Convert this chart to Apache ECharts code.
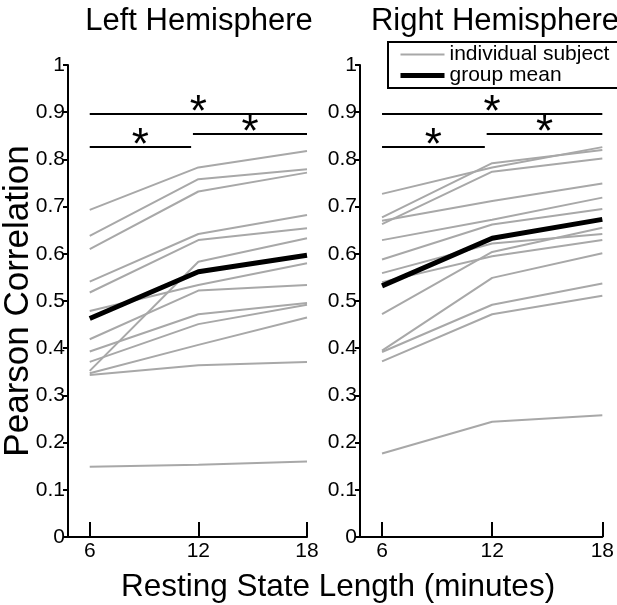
<!DOCTYPE html>
<html><head><meta charset="utf-8">
<script src="https://cdn.jsdelivr.net/npm/echarts@6/dist/echarts.min.js"></script>
<style>html,body{margin:0;padding:0;background:#fff}#c{width:617px;height:605px}</style>
</head><body><div id="c"></div><script>
// ---- data ----
const xValues = [6, 12, 18];
const xTickValues = [6, 12, 18];
const panelTitles = ['Left Hemisphere', 'Right Hemisphere'];
const legendNames = ['individual subject', 'group mean'];

const leftS01 = [0.693, 0.783, 0.818];
const leftS02 = [0.638, 0.758, 0.779];
const leftS03 = [0.610, 0.732, 0.772];
const leftS04 = [0.541, 0.642, 0.682];
const leftS05 = [0.518, 0.629, 0.654];
const leftS06 = [0.352, 0.583, 0.633];
const leftS07 = [0.479, 0.534, 0.580];
const leftS08 = [0.419, 0.522, 0.534];
const leftS09 = [0.393, 0.472, 0.496];
const leftS10 = [0.371, 0.451, 0.492];
const leftS11 = [0.347, 0.407, 0.465];
const leftS12 = [0.343, 0.364, 0.371];
const leftS13 = [0.149, 0.153, 0.160];
const leftMean = [0.463, 0.562, 0.597];

const rightS01 = [0.727, 0.783, 0.826];
const rightS02 = [0.677, 0.792, 0.820];
const rightS03 = [0.663, 0.774, 0.802];
const rightS04 = [0.670, 0.712, 0.749];
const rightS05 = [0.629, 0.672, 0.719];
const rightS06 = [0.588, 0.662, 0.695];
const rightS07 = [0.559, 0.622, 0.642];
const rightS08 = [0.540, 0.595, 0.629];
const rightS09 = [0.472, 0.604, 0.655];
const rightS10 = [0.395, 0.549, 0.601];
const rightS11 = [0.392, 0.492, 0.537];
const rightS12 = [0.372, 0.472, 0.511];
const rightS13 = [0.177, 0.244, 0.258];
const rightMean = [0.532, 0.633, 0.673];

// significance bars: [x1, x2, y]
const sigBars = [[6, 18, 0.896], [6, 11.6, 0.826], [11.7, 18, 0.855]];

const leftSubjects = [leftS01,leftS02,leftS03,leftS04,leftS05,leftS06,leftS07,leftS08,leftS09,leftS10,leftS11,leftS12,leftS13];
const rightSubjects = [rightS01,rightS02,rightS03,rightS04,rightS05,rightS06,rightS07,rightS08,rightS09,rightS10,rightS11,rightS12,rightS13];

// ---- chart ----
const FONT = "'Liberation Sans', Arial, sans-serif";
const GRAY = '#a8a8a8';
const chart = echarts.init(document.getElementById('c'), null, {renderer: 'canvas'});

function pts(vals) { return xValues.map((x, i) => [x, vals[i]]); }

const series = [];
[leftSubjects, rightSubjects].forEach((subs, p) => {
  subs.forEach(v => series.push({
    type: 'line', name: legendNames[0], xAxisIndex: p, yAxisIndex: p,
    data: pts(v), symbol: 'none', silent: true, z: 2,
    lineStyle: {color: GRAY, width: 2}, itemStyle: {color: GRAY}
  }));
});
[leftMean, rightMean].forEach((v, p) => {
  series.push({
    type: 'line', name: legendNames[1], xAxisIndex: p, yAxisIndex: p,
    data: pts(v), symbol: 'none', silent: true, z: 4,
    lineStyle: {color: '#000', width: 5}, itemStyle: {color: '#000'}
  });
  series.push({
    type: 'line', name: 'sig' + p, xAxisIndex: p, yAxisIndex: p, data: [], z: 5,
    markLine: {
      silent: true, symbol: ['none', 'none'], animation: false,
      lineStyle: {color: '#000', width: 2, type: 'solid'},
      label: {show: true, position: 'middle', formatter: '*', color: '#000',
              fontSize: 44, fontFamily: FONT, distance: -22},
      data: sigBars.map(b => [{coord: [b[0], b[2]]}, {coord: [b[1], b[2]]}])
    }
  });
});

const grids = [
  {left: 68, top: 65, width: 239, height: 472},
  {left: 360, top: 65, width: 243, height: 472}
];

function xAxis(i) {
  return {
    type: 'value', gridIndex: i, min: 4.8, max: 18,
    axisLine: {show: true, lineStyle: {color: '#000', width: 2}},
    axisTick: {show: true, inside: true, length: 15, customValues: xTickValues, lineStyle: {color: '#000', width: 2}},
    axisLabel: {show: true, customValues: xTickValues, color: '#000', fontSize: 21, fontFamily: FONT, margin: 4},
    splitLine: {show: false}
  };
}
function yAxis(i) {
  return {
    type: 'value', gridIndex: i, min: 0, max: 1, interval: 0.1,
    axisLine: {show: true, lineStyle: {color: '#000', width: 2}},
    axisTick: {show: true, inside: false, length: 5, lineStyle: {color: '#000', width: 2}},
    axisLabel: {color: '#000', fontSize: 21, fontFamily: FONT, margin: 3,
      formatter: v => (v === 0 ? '0' : v === 1 ? '1' : v.toFixed(1))},
    splitLine: {show: false},
    name: i === 0 ? 'Pearson Correlation' : '',
    nameLocation: 'middle', nameRotate: 90, nameGap: 32, nameMoveOverlap: false,
    nameTextStyle: {color: '#000', fontSize: 35, fontFamily: FONT}
  };
}

chart.setOption({
  animation: false,
  backgroundColor: '#fff',
  textStyle: {fontFamily: FONT},
  title: [
    {text: panelTitles[0], left: 194, top: 1, textAlign: 'center',
     textStyle: {fontSize: 31, fontWeight: 'normal', color: '#000', fontFamily: FONT}},
    {text: panelTitles[1], left: 490, top: 1, textAlign: 'center',
     textStyle: {fontSize: 31, fontWeight: 'normal', color: '#000', fontFamily: FONT}},
    {text: 'Resting State Length (minutes)', left: 333, top: 566, textAlign: 'center',
     textStyle: {fontSize: 31.5, fontWeight: 'normal', color: '#000', fontFamily: FONT}}
  ],
  legend: {
    data: [
      {name: legendNames[0], lineStyle: {width: 2, color: GRAY}},
      {name: legendNames[1], lineStyle: {width: 5, color: '#000'}}
    ],
    orient: 'vertical', left: 388, top: 42,
    borderColor: '#000', borderWidth: 2, borderRadius: 0,
    padding: [2, 12, 2, 10], itemGap: 0, itemWidth: 44, itemHeight: 14,
    backgroundColor: '#fff', selectedMode: false,
    itemStyle: {opacity: 0},
    textStyle: {fontSize: 21, color: '#000', fontFamily: FONT, lineHeight: 20}
  },
  grid: grids,
  xAxis: [xAxis(0), xAxis(1)],
  yAxis: [yAxis(0), yAxis(1)],
  series: series
});
</script></body></html>
